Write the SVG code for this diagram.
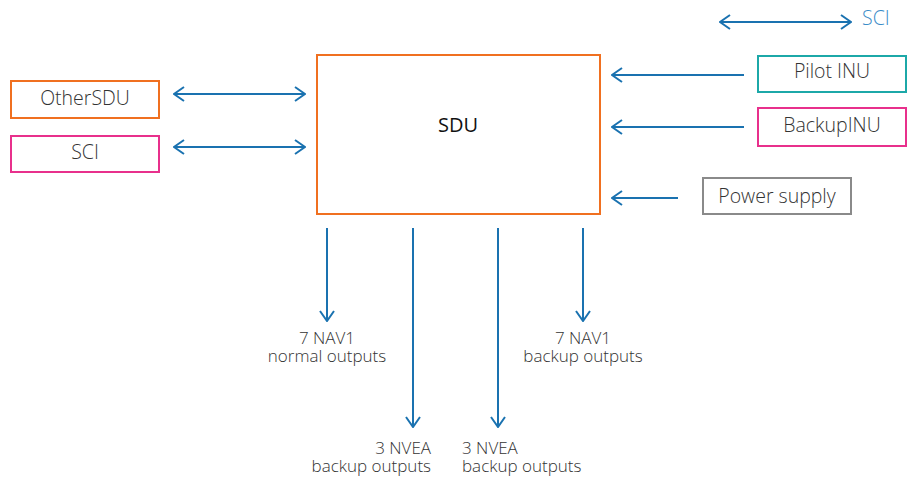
<svg xmlns="http://www.w3.org/2000/svg" width="912" height="480" viewBox="0 0 912 480">
<style>
.box{fill:#fff;stroke-width:2}
.lbl{font-family:"Open Sans",Lato,sans-serif;font-size:19.5px;font-weight:300;fill:#333;text-anchor:middle}
.out{font-family:"Open Sans",Lato,sans-serif;font-size:17px;font-weight:300;fill:#333}
.con line{stroke:#1a72b0;stroke-width:2;fill:none}
</style>
<defs>
<marker id="ah" viewBox="0 0 12 16" refX="11" refY="8" markerWidth="12" markerHeight="16" markerUnits="userSpaceOnUse" orient="auto-start-reverse">
<path d="M1,1 L11,8 L1,15" fill="none" stroke="#1a72b0" stroke-width="2"/>
</marker>
</defs>
<rect width="912" height="480" fill="#fff"/>
<g id="sdu"><rect class="box" x="317" y="55" width="283" height="159" stroke="#f07020"/><text x="458" y="132" class="lbl" style="font-weight:400;fill:#111;font-size:20px">SDU</text></g>
<g id="othersdu"><rect class="box" x="11" y="81" width="148" height="37" stroke="#f07020"/><text x="85" y="105" class="lbl">OtherSDU</text></g>
<g id="sci-left"><rect class="box" x="11" y="136" width="148" height="36" stroke="#e8308c"/><text x="85" y="159" class="lbl">SCI</text></g>
<g id="pilotinu"><rect class="box" x="758" y="56" width="148" height="36" stroke="#1ca8a8"/><text x="832" y="78" class="lbl">Pilot INU</text></g>
<g id="backupinu"><rect class="box" x="758" y="108" width="148" height="38" stroke="#e8308c"/><text x="832" y="132" class="lbl">BackupINU</text></g>
<g id="power"><rect class="box" x="703" y="178" width="148" height="36" stroke="#8a8a8a"/><text x="777" y="203" class="lbl">Power supply</text></g>
<g id="sci-top"><text x="862" y="25" class="lbl" style="fill:#3a8cc8;text-anchor:start">SCI</text></g>
<g class="con" id="connectors">
<line x1="174" y1="94" x2="305" y2="94" marker-start="url(#ah)" marker-end="url(#ah)"/>
<line x1="174" y1="147" x2="305" y2="147" marker-start="url(#ah)" marker-end="url(#ah)"/>
<line x1="720" y1="22" x2="851" y2="22" marker-start="url(#ah)" marker-end="url(#ah)"/>
<line x1="744" y1="75" x2="612" y2="75" marker-end="url(#ah)"/>
<line x1="744" y1="127" x2="612" y2="127" marker-end="url(#ah)"/>
<line x1="678" y1="198" x2="612" y2="198" marker-end="url(#ah)"/>
<line x1="327" y1="228" x2="327" y2="321" marker-end="url(#ah)"/>
<line x1="413" y1="228" x2="413" y2="427" marker-end="url(#ah)"/>
<line x1="498" y1="228" x2="498" y2="427" marker-end="url(#ah)"/>
<line x1="583" y1="228" x2="583" y2="321" marker-end="url(#ah)"/>
</g>
<g id="labels">
<text class="out" x="327" y="344" text-anchor="middle">7 NAV1</text>
<text class="out" x="327" y="362" text-anchor="middle">normal outputs</text>
<text class="out" x="583" y="344" text-anchor="middle">7 NAV1</text>
<text class="out" x="583" y="362" text-anchor="middle">backup outputs</text>
<text class="out" x="431" y="454" text-anchor="end">3 NVEA</text>
<text class="out" x="431" y="472" text-anchor="end">backup outputs</text>
<text class="out" x="462" y="454">3 NVEA</text>
<text class="out" x="462" y="472">backup outputs</text>
</g>
</svg>
